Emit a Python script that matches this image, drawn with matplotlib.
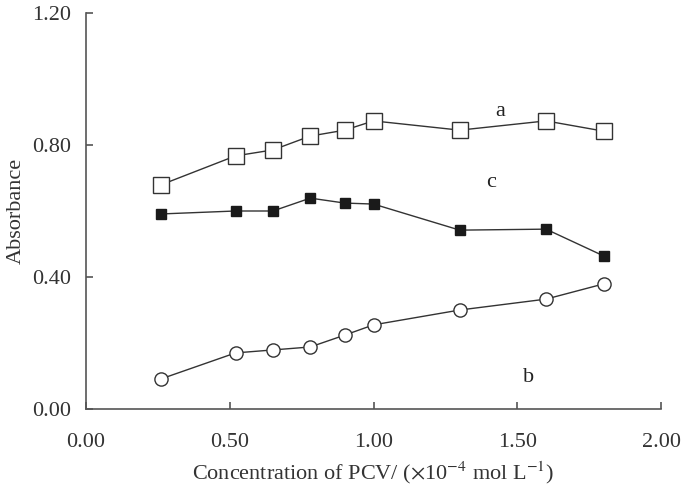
import matplotlib
matplotlib.use('Agg')
import matplotlib.pyplot as plt
from matplotlib.ticker import FormatStrFormatter

plt.rcParams['font.family'] = ['Liberation Serif', 'DejaVu Serif']
plt.rcParams['mathtext.fontset'] = 'stix'

# concentration of PCV (x10^-4 mol/L)
conc = [0.26, 0.52, 0.65, 0.78, 0.90, 1.00, 1.30, 1.60, 1.80]
abs_a = [0.679, 0.767, 0.785, 0.827, 0.845, 0.873, 0.845, 0.873, 0.842]
abs_b = [0.091, 0.170, 0.179, 0.188, 0.224, 0.255, 0.300, 0.333, 0.379]
abs_c = [0.591, 0.600, 0.600, 0.639, 0.624, 0.621, 0.542, 0.545, 0.464]

fig = plt.figure(figsize=(6.86, 4.86), dpi=100)
ax = fig.add_axes([0.1254, 0.1584, 0.8382, 0.8149])

lc = '#333333'
ax.plot(conc, abs_a, '-', color=lc, lw=1.0, marker='s', ms=11,
        mfc='white', mec=lc, mew=1.0)
ax.plot(conc, abs_c, '-', color=lc, lw=1.0, marker='s', ms=7.5,
        mfc='#1a1a1a', mec='#1a1a1a')
ax.plot(conc, abs_b, '-', color=lc, lw=1.0, marker='o', ms=9.5,
        mfc='white', mec=lc, mew=1.0)

# curve labels
ax.text(1.44, 0.90, 'a', fontsize=16, color='#222222', ha='center', va='center')
ax.text(1.41, 0.685, 'c', fontsize=16, color='#222222', ha='center', va='center')
ax.text(1.54, 0.095, 'b', fontsize=16, color='#222222', ha='center', va='center')

ax.set_xlim(0, 2.0)
ax.set_ylim(0, 1.2)
ax.set_xticks([0, 0.5, 1.0, 1.5, 2.0])
ax.set_yticks([0, 0.4, 0.8, 1.2])
ax.xaxis.set_major_formatter(FormatStrFormatter('%.2f'))
ax.yaxis.set_major_formatter(FormatStrFormatter('%.2f'))

for s in ['top', 'right']:
    ax.spines[s].set_visible(False)
for s in ['left', 'bottom']:
    ax.spines[s].set_color('#555555')
    ax.spines[s].set_linewidth(1.2)

ax.tick_params(axis='both', direction='in', length=5, width=1.2, color='#555555',
               labelsize=16, labelcolor='#333333')
ax.tick_params(axis='x', pad=17)
ax.tick_params(axis='y', pad=11)

ax.set_ylabel('Absorbance', fontsize=16, color='#333333', labelpad=4)
ax.set_xlabel(r'Concentration of PCV/ ($\times$10$^{-4}$ mol L$^{-1}$)',
              fontsize=16, color='#333333', labelpad=6)

fig.savefig('out.png', dpi=100)
